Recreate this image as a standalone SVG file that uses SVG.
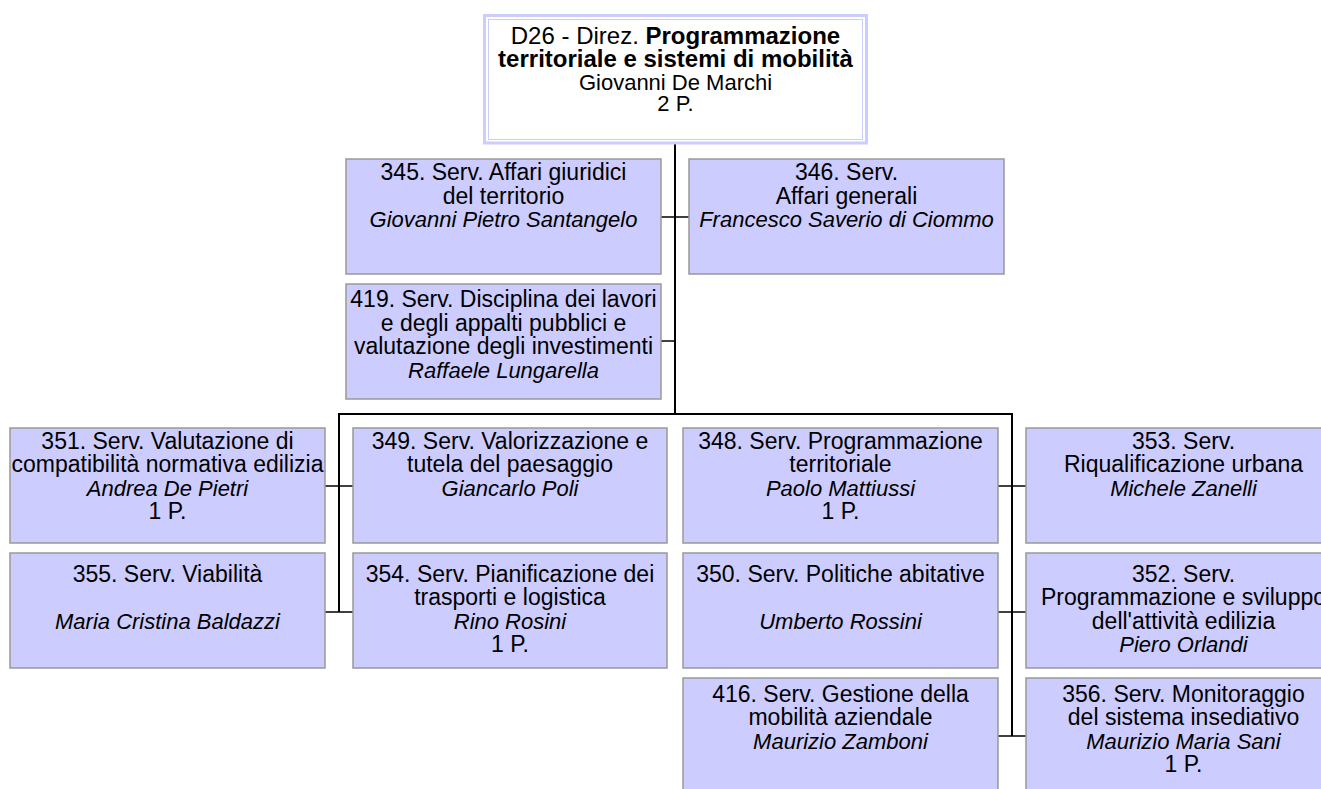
<svg xmlns="http://www.w3.org/2000/svg" width="1321" height="789" viewBox="0 0 1321 789">
<style>
.box{fill:#ccccff;stroke:#999999;stroke-width:1.5}
text{font-family:"Liberation Sans",Arial,sans-serif;font-size:23px;fill:#000;text-anchor:middle}
.i{font-style:italic;font-size:22px}
.b{font-weight:bold}
.t{font-size:24px}
.s{font-size:22px}
.main{stroke:#000;stroke-width:2;fill:none}
.con{stroke:#000;stroke-width:1.5;fill:none}
</style>
<rect width="1321" height="789" fill="#fff"/>
<g id="connectors">
<line class="main" x1="675" y1="144" x2="675" y2="414"/>
<polyline class="main" points="339,612 339,414 1012,414 1012,736"/>
<line class="con" x1="661" y1="217" x2="689" y2="217"/>
<line class="con" x1="661" y1="341" x2="675" y2="341"/>
<line class="con" x1="325" y1="486" x2="353" y2="486"/>
<line class="con" x1="325" y1="612" x2="353" y2="612"/>
<line class="con" x1="998" y1="486" x2="1026" y2="486"/>
<line class="con" x1="998" y1="612" x2="1026" y2="612"/>
<line class="con" x1="998" y1="736" x2="1026" y2="736"/>
</g>
<g id="D26">
<rect x="484.5" y="15.5" width="382" height="127.5" fill="#fff" stroke="#ccccff" stroke-width="3"/>
<rect x="488.5" y="19.5" width="374" height="120" fill="none" stroke="#ccccff" stroke-width="1"/>
<text class="t" x="675.5" y="44">D26 - Direz. <tspan class="b">Programmazione</tspan></text>
<text class="t b" x="675.5" y="67">territoriale e sistemi di mobilità</text>
<text class="s" x="675.5" y="89.5">Giovanni De Marchi</text>
<text class="s" x="675.5" y="110.5">2 P.</text>
</g>
<g id="n345">
<rect class="box" x="346" y="159" width="315" height="115"/>
<text x="503.5" y="180">345. Serv. Affari giuridici</text>
<text x="503.5" y="203.5">del territorio</text>
<text x="503.5" y="227" class="i">Giovanni Pietro Santangelo</text>
</g>
<g id="n346">
<rect class="box" x="689" y="159" width="315" height="115"/>
<text x="846.5" y="180">346. Serv.</text>
<text x="846.5" y="203.5">Affari generali</text>
<text x="846.5" y="227" class="i">Francesco Saverio di Ciommo</text>
</g>
<g id="n419">
<rect class="box" x="346" y="284" width="315" height="115"/>
<text x="503.5" y="307">419. Serv. Disciplina dei lavori</text>
<text x="503.5" y="330.5">e degli appalti pubblici e</text>
<text x="503.5" y="354">valutazione degli investimenti</text>
<text x="503.5" y="377.5" class="i">Raffaele Lungarella</text>
</g>
<g id="n351">
<rect class="box" x="10" y="428" width="315" height="115"/>
<text x="167.5" y="448.5">351. Serv. Valutazione di</text>
<text x="167.5" y="472">compatibilità normativa edilizia</text>
<text x="167.5" y="495.5" class="i">Andrea De Pietri</text>
<text x="167.5" y="519">1 P.</text>
</g>
<g id="n349">
<rect class="box" x="353" y="428" width="314" height="115"/>
<text x="510" y="448.5">349. Serv. Valorizzazione e</text>
<text x="510" y="472">tutela del paesaggio</text>
<text x="510" y="495.5" class="i">Giancarlo Poli</text>
</g>
<g id="n348">
<rect class="box" x="683" y="428" width="315" height="115"/>
<text x="840.5" y="448.5">348. Serv. Programmazione</text>
<text x="840.5" y="472">territoriale</text>
<text x="840.5" y="495.5" class="i">Paolo Mattiussi</text>
<text x="840.5" y="519">1 P.</text>
</g>
<g id="n353">
<rect class="box" x="1026" y="428" width="315" height="115"/>
<text x="1183.5" y="448.5">353. Serv.</text>
<text x="1183.5" y="472">Riqualificazione urbana</text>
<text x="1183.5" y="495.5" class="i">Michele Zanelli</text>
</g>
<g id="n355">
<rect class="box" x="10" y="553" width="315" height="115"/>
<text x="167.5" y="581.5">355. Serv. Viabilità</text>
<text x="167.5" y="628.5" class="i">Maria Cristina Baldazzi</text>
</g>
<g id="n354">
<rect class="box" x="353" y="553" width="314" height="115"/>
<text x="510" y="581.5">354. Serv. Pianificazione dei</text>
<text x="510" y="605">trasporti e logistica</text>
<text x="510" y="628.5" class="i">Rino Rosini</text>
<text x="510" y="652">1 P.</text>
</g>
<g id="n350">
<rect class="box" x="683" y="553" width="315" height="115"/>
<text x="840.5" y="581.5">350. Serv. Politiche abitative</text>
<text x="840.5" y="628.5" class="i">Umberto Rossini</text>
</g>
<g id="n352">
<rect class="box" x="1026" y="553" width="315" height="115"/>
<text x="1183.5" y="581.5">352. Serv.</text>
<text x="1183.5" y="605">Programmazione e sviluppo</text>
<text x="1183.5" y="628.5">dell'attività edilizia</text>
<text x="1183.5" y="652" class="i">Piero Orlandi</text>
</g>
<g id="n416">
<rect class="box" x="683" y="678" width="315" height="115"/>
<text x="840.5" y="701.5">416. Serv. Gestione della</text>
<text x="840.5" y="725">mobilità aziendale</text>
<text x="840.5" y="748.5" class="i">Maurizio Zamboni</text>
</g>
<g id="n356">
<rect class="box" x="1026" y="678" width="315" height="115"/>
<text x="1183.5" y="701.5">356. Serv. Monitoraggio</text>
<text x="1183.5" y="725">del sistema insediativo</text>
<text x="1183.5" y="748.5" class="i">Maurizio Maria Sani</text>
<text x="1183.5" y="772">1 P.</text>
</g>
</svg>
